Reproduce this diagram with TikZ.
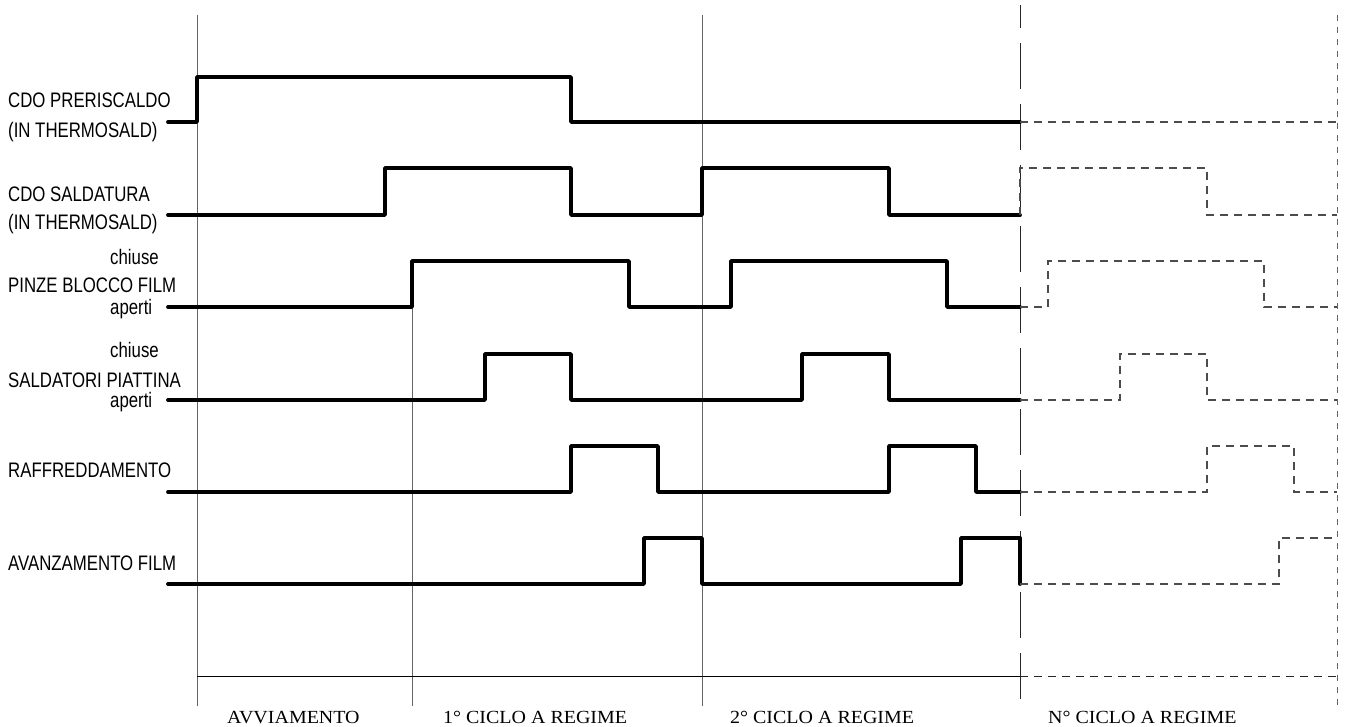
\documentclass[tikz,border=0pt]{standalone}
\usepackage{fontspec}
\newfontfamily\labfont[FakeStretch=0.8]{Liberation Sans}
\newfontfamily\phasefont[FakeStretch=1.08]{Liberation Serif}
\begin{document}
\begin{tikzpicture}[x=1pt,y=-1pt,
  sig/.style={line width=3.8pt,line cap=round,line join=round,black},
  sigfut/.style={line width=1.1pt,dash pattern=on 8pt off 6pt,color=black!70},
  guide/.style={line width=0.9pt,color=black!60},
  lab/.style={anchor=base west,inner sep=0pt,font=\labfont\fontsize{21}{24}\selectfont},
  phase/.style={anchor=base west,inner sep=0pt,font=\phasefont\fontsize{18.5}{20}\selectfont}]
\useasboundingbox (0,0) rectangle (1346,727);
% guides
\draw[guide] (197,15) -- (197,706);
\draw[guide] (412,261) -- (412,706);
\draw[guide] (702,15) -- (702,706);
\draw[line width=0.9pt,black!85,dash pattern=on 46pt off 15pt] (1020,699) -- (1020,5);
\draw[line width=0.9pt,black!60,dash pattern=on 6pt off 6pt] (1337,15) -- (1337,707);
\draw[line width=0.9pt,black] (197,676) -- (1020,676);
\draw[line width=0.9pt,black!85,dash pattern=on 8pt off 6pt] (1020,676) -- (1337,676);
% signals
\draw[sig] (168,122) -- (197,122) -- (197,77) -- (571,77) -- (571,122) -- (1020,122);
\draw[sigfut] (1020,122) -- (1337,122);
\draw[sig] (168,215) -- (385,215) -- (385,168) -- (571,168) -- (571,215) -- (702,215) -- (702,168) -- (889,168) -- (889,215) -- (1020,215);
\draw[sigfut] (1020,215) -- (1020,168) -- (1207,168) -- (1207,215) -- (1337,215);
\draw[sig] (168,307) -- (412,307) -- (412,261) -- (629,261) -- (629,307) -- (731,307) -- (731,261) -- (947,261) -- (947,307) -- (1020,307);
\draw[sigfut] (1020,307) -- (1048,307) -- (1048,261) -- (1264,261) -- (1264,307) -- (1337,307);
\draw[sig] (168,400) -- (485,400) -- (485,354) -- (571,354) -- (571,400) -- (802,400) -- (802,354) -- (889,354) -- (889,400) -- (1020,400);
\draw[sigfut] (1020,400) -- (1120,400) -- (1120,354) -- (1207,354) -- (1207,400) -- (1337,400);
\draw[sig] (168,492) -- (571,492) -- (571,446) -- (658,446) -- (658,492) -- (889,492) -- (889,446) -- (976,446) -- (976,492) -- (1020,492);
\draw[sigfut] (1020,492) -- (1207,492) -- (1207,446) -- (1294,446) -- (1294,492) -- (1337,492);
\draw[sig] (168,584) -- (644,584) -- (644,538) -- (702,538) -- (702,584) -- (961,584) -- (961,538) -- (1020,538) -- (1020,584);
\draw[sigfut] (1020,584) -- (1279,584) -- (1279,538) -- (1337,538);
% left labels
\node[lab] (l1a) at (8,108) {CDO PRERISCALDO};
\node[lab] (l1b) at (8,138) {(IN THERMOSALD)};
\node[lab] (l2a) at (8,202) {CDO SALDATURA};
\node[lab] (l2b) at (8,230) {(IN THERMOSALD)};
\node[lab] (l3c) at (110,265) {chiuse};
\node[lab] (l3a) at (8,293) {PINZE BLOCCO FILM};
\node[lab] (l3o) at (110,314) {aperti};
\node[lab] (l4c) at (110,357) {chiuse};
\node[lab] (l4a) at (8,387) {SALDATORI PIATTINA};
\node[lab] (l4o) at (110,407) {aperti};
\node[lab] (l5a) at (8,477) {RAFFREDDAMENTO};
\node[lab] (l6a) at (8,570) {AVANZAMENTO FILM};
% phase labels
\node[phase] (p0) at (227,723) {AVVIAMENTO};
\node[phase] (p1) at (443,723) {1° CICLO A REGIME};
\node[phase] (p2) at (730,723) {2° CICLO A REGIME};
\node[phase] (pn) at (1048,723) {N° CICLO A REGIME};
\end{tikzpicture}
\end{document}
